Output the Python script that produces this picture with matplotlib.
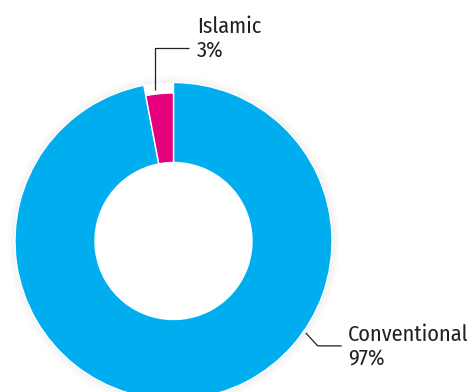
import numpy as np
import matplotlib
matplotlib.use("Agg")
import matplotlib.pyplot as plt
from matplotlib.patches import Circle

# Market share of banking assets
categories = ["Conventional", "Islamic"]
shares = [97, 3]
share_labels = ["97%", "3%"]
colors = ["#00AEEF", "#E6007E"]

W, H = 470, 392
fig = plt.figure(figsize=(W / 100, H / 100), dpi=100)
ax = fig.add_axes([0, 0, 1, 1])

family = ["Fira Sans Condensed", "Liberation Sans", "DejaVu Sans"]
text_color = "#231F20"

cx, cy = 173.5, H - 241
r_out, r_in = 158.5, 78.5
r_small = 148

# soft drop shadow around the ring
for i in range(14):
    ax.add_patch(Circle((cx + 0.5, cy - 0.5), r_out + 0.6 * i, color="black",
                        alpha=0.005, lw=0, zorder=0))
ax.add_patch(Circle((cx, cy), r_out, color="white", lw=0, zorder=0.5))

wedges, _ = ax.pie(shares, colors=colors, startangle=90, counterclock=False,
                   center=(cx, cy), radius=r_out,
                   wedgeprops=dict(width=r_out - r_in, edgecolor="white", linewidth=1.0),
                   frame=True)
ax.set_xlim(0, W)
ax.set_ylim(0, H)
ax.set_aspect("equal")
ax.axis("off")

# the Islamic slice is drawn with a shorter outer radius
wedges[1].set_radius(r_small)
wedges[1].set_width(r_small - r_in)
for w in wedges:
    w.set_zorder(2)

fs = 16

# Islamic label with elbow leader
w1 = wedges[1]
ang = np.deg2rad(w1.theta1 + 0.65 * (w1.theta2 - w1.theta1))
x0 = cx + (r_small + 4) * np.cos(ang)
y0 = cy + (r_small + 4) * np.sin(ang)
y_elbow = H - 48
ax.plot([x0, x0, x0 + 34], [y0, y_elbow, y_elbow], color=text_color, lw=0.9,
        solid_capstyle="butt", zorder=3)
ax.text(197, H - 33, categories[1], fontsize=fs, family=family, color=text_color,
        va="baseline", ha="left")
ax.text(197, H - 57, share_labels[1], fontsize=fs, family=family, color=text_color,
        va="baseline", ha="left")

# Conventional label with elbow leader
ang2 = np.deg2rad(-34.8)
x1 = cx + (r_out + 2.5) * np.cos(ang2)
y1 = cy + (r_out + 2.5) * np.sin(ang2)
ax.plot([x1, x1 + 12, x1 + 36], [y1, y1 - 13, y1 - 13], color=text_color, lw=0.9,
        solid_capstyle="butt", zorder=3)
ax.text(348, H - 341, categories[0], fontsize=fs, family=family, color=text_color,
        va="baseline", ha="left")
ax.text(348, H - 366, share_labels[0], fontsize=fs, family=family, color=text_color,
        va="baseline", ha="left")

fig.savefig("out.png", dpi=100, facecolor="white")
